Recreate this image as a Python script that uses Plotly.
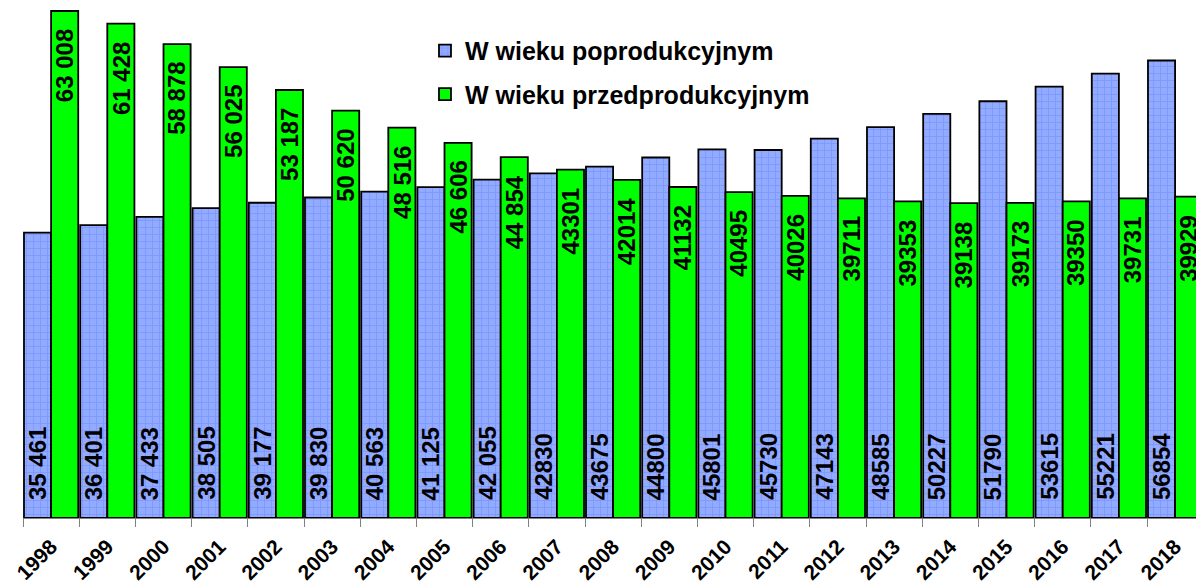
import plotly.graph_objects as go

years = [str(y) for y in range(1998, 2019)]
poprod = [35461, 36401, 37433, 38505, 39177, 39830, 40563, 41125, 42055, 42830,
          43675, 44800, 45801, 45730, 47143, 48585, 50227, 51790, 53615, 55221, 56854]
przedprod = [63008, 61428, 58878, 56025, 53187, 50620, 48516, 46606, 44854, 43301,
             42014, 41132, 40495, 40026, 39711, 39353, 39138, 39173, 39350, 39731, 39929]


def fmt(v, y):
    # labels before 2007 use a space as thousands separator
    if int(y) <= 2006:
        return f"{v:,}".replace(",", " ")
    return str(v)


FONT = "Arial, Liberation Sans, sans-serif"
label_font = dict(family=FONT, size=24, color="black", weight="bold")

fig = go.Figure()
fig.add_trace(go.Bar(
    x=years, y=poprod, name="<b>W wieku poprodukcyjnym</b>",
    textposition="none",
    marker=dict(color="#93abff", line=dict(color="black", width=1.8),
                pattern=dict(shape="+", fgcolor="#5b7fff", size=7, solidity=0.2)),
    legendgroup="a",
))
fig.add_trace(go.Bar(
    x=years, y=przedprod, name="<b>W wieku przedprodukcyjnym</b>",
    textposition="none",
    marker=dict(color="#00ff00", line=dict(color="black", width=1.8)),
    legendgroup="b",
))

step = 56.2                 # px per category
plot_w = 1196 - 23          # the last category runs past the right edge, as in the reference
bar_off = step * (1 - 0.035) / 4

annotations = []
for i, (y, v) in enumerate(zip(years, poprod)):
    annotations.append(dict(x=i, y=0, xref="x", yref="y", text=fmt(v, y),
                            textangle=-90, showarrow=False, font=label_font,
                            xanchor="center", yanchor="bottom",
                            xshift=-bar_off, yshift=16))
for i, (y, v) in enumerate(zip(years, przedprod)):
    annotations.append(dict(x=i, y=v, xref="x", yref="y", text=fmt(v, y),
                            textangle=-90, showarrow=False, font=label_font,
                            xanchor="center", yanchor="top",
                            xshift=bar_off, yshift=-16))

fig.update_layout(
    width=1196, height=587,
    margin=dict(l=23, r=0, t=0, b=69, autoexpand=False),
    paper_bgcolor="white", plot_bgcolor="white",
    barmode="group", bargap=0.035, bargroupgap=0,
    showlegend=True,
    legend=dict(x=0.3427, y=0.946, xanchor="left", yanchor="top",
                font=dict(family=FONT, size=25, color="black"),
                traceorder="grouped", tracegroupgap=8,
                bgcolor="rgba(0,0,0,0)"),
    xaxis=dict(type="category", range=[-0.5, -0.5 + plot_w / step],
               automargin=False,
               showline=True, linecolor="#808080", linewidth=1,
               ticks="outside", tickson="boundaries", ticklen=8, tickcolor="#808080",
               tickangle=-45, ticklabelstandoff=7,
               tickfont=dict(family=FONT, size=21, color="black", weight="bold"),
               showgrid=False),
    yaxis=dict(range=[0, 64372], visible=False, showgrid=False),
    annotations=annotations,
    font=dict(family=FONT),
)

fig.write_html("out.html",
               config={"displayModeBar": False},
               post_script="document.body.style.margin='0';document.body.style.overflow='hidden';")
